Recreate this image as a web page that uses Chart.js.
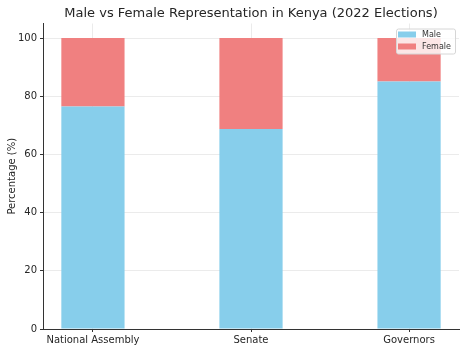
<!DOCTYPE html>
<html>
<head>
<meta charset="utf-8">
<script src="https://cdn.jsdelivr.net/npm/chart.js@4/dist/chart.umd.min.js"></script>
<style>
  html, body { margin: 0; padding: 0; background: #fff; }
  #wrap { width: 468px; height: 351px; }
</style>
</head>
<body>
<div id="wrap"><canvas id="chart" width="468" height="351"></canvas></div>
<script>
// ── data ──
const categories = ['National Assembly', 'Senate', 'Governors'];
const maleShare = [76.5, 68.7, 85.1];
const femaleShare = [23.5, 31.3, 14.9];
const yTicks = [0, 20, 40, 60, 80, 100];

const MALE = '#87CEEB';
const FEMALE = '#F08080';
const FONT = "'DejaVu Sans', sans-serif";
const TITLE = 'Male vs Female Representation in Kenya (2022 Elections)';

// title centred over the plot area (not the canvas)
const plotTitle = {
  id: 'plotTitle',
  afterDraw(chart) {
    const ctx = chart.ctx;
    const area = chart.chartArea;
    ctx.save();
    ctx.font = '13px ' + FONT;
    ctx.fillStyle = '#262626';
    ctx.textAlign = 'center';
    ctx.textBaseline = 'middle';
    ctx.fillText(TITLE, (area.left + area.right) / 2, 14);
    ctx.restore();
  }
};

// legend box in upper right of the plot, drawn by hand
const insideLegend = {
  id: 'insideLegend',
  afterDraw(chart) {
    const ctx = chart.ctx;
    const area = chart.chartArea;
    const w = 59, h = 25;
    const x = area.right - w - 4, y = area.top + 5;
    ctx.save();
    ctx.fillStyle = 'rgba(255,255,255,0.8)';
    ctx.strokeStyle = '#d6d6d6';
    ctx.lineWidth = 1;
    ctx.beginPath();
    ctx.roundRect(x + 0.5, y + 0.5, w, h, 2);
    ctx.fill();
    ctx.stroke();
    ctx.font = '8px ' + FONT;
    ctx.textBaseline = 'middle';
    chart.data.datasets.forEach((ds, i) => {
      const ry = y + 6 + i * 12;
      ctx.fillStyle = ds.backgroundColor;
      ctx.fillRect(x + 2, ry - 3, 18, 6);
      ctx.fillStyle = '#333';
      ctx.fillText(ds.label, x + 26, ry + 0.5);
    });
    ctx.restore();
  }
};

new Chart(document.getElementById('chart'), {
  type: 'bar',
  data: {
    datasets: [
      { label: 'Male', data: maleShare.map((v, i) => ({ x: i, y: v })), backgroundColor: MALE,
        categoryPercentage: 0.4, barPercentage: 1 },
      { label: 'Female', data: femaleShare.map((v, i) => ({ x: i, y: v })), backgroundColor: FEMALE,
        categoryPercentage: 0.4, barPercentage: 1 }
    ]
  },
  options: {
    responsive: false,
    animation: false,
    layout: { padding: { left: 0, right: 9, top: 23.5, bottom: 0 } },
    plugins: {
      legend: { display: false },
      tooltip: { enabled: false },
      title: { display: false }
    },
    scales: {
      x: {
        type: 'linear',
        stacked: true,
        offset: false,
        min: -0.316,
        max: 2.316,
        afterBuildTicks: (s) => { s.ticks = categories.map((_, i) => ({ value: i })); },
        afterFit: (s) => { s.height = 22; },
        ticks: {
          callback: (v) => categories[v],
          color: '#262626',
          font: { family: FONT, size: 10 },
          padding: 2,
          maxRotation: 0,
          autoSkip: false
        },
        grid: { offset: false, color: '#ebebeb', tickColor: '#333', tickLength: 3 },
        border: { color: '#333', width: 1 }
      },
      y: {
        stacked: true,
        min: 0,
        max: 105,
        afterBuildTicks: (s) => { s.ticks = yTicks.map(v => ({ value: v })); },
        afterFit: (s) => { s.width = 43; },
        title: {
          display: true,
          text: 'Percentage (%)',
          color: '#262626',
          font: { family: FONT, size: 10 },
          padding: { top: 6, bottom: 0 }
        },
        ticks: {
          color: '#262626',
          font: { family: FONT, size: 10 },
          padding: 3
        },
        grid: { color: '#ebebeb', tickColor: '#333', tickLength: 3 },
        border: { color: '#333', width: 1 }
      }
    }
  },
  plugins: [plotTitle, insideLegend]
});
</script>
</body>
</html>
